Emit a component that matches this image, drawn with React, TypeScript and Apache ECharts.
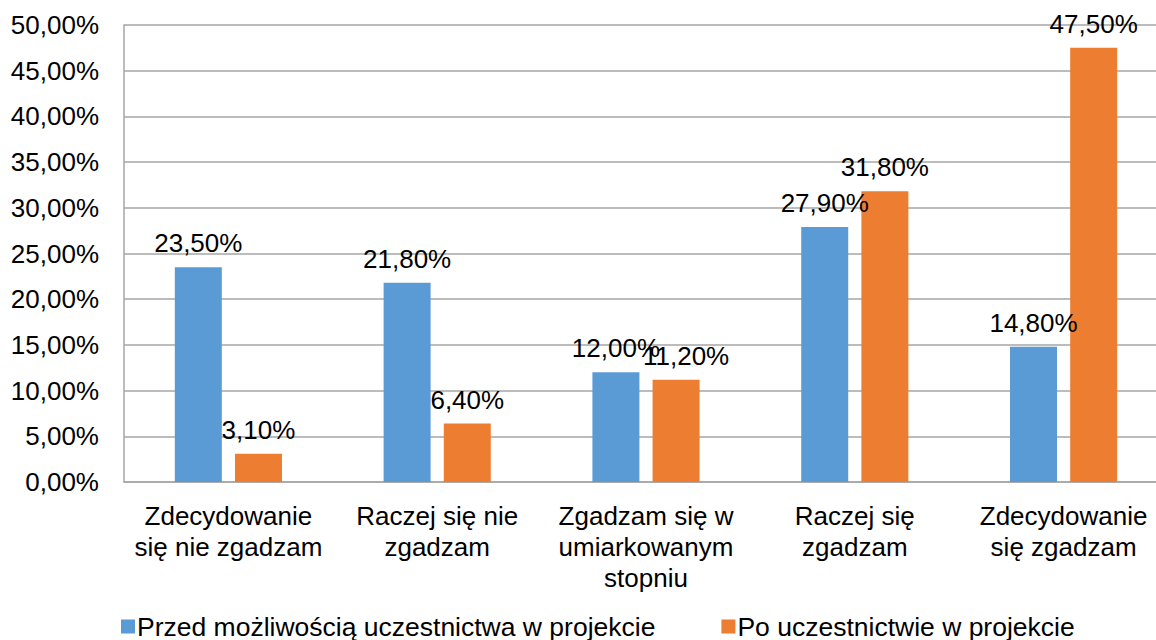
import React, { useEffect, useRef } from "react";
import * as echarts from "echarts";

const categories = [
  "Zdecydowanie\nsię nie zgadzam",
  "Raczej się nie\nzgadzam",
  "Zgadzam się w\numiarkowanym\nstopniu",
  "Raczej się\nzgadzam",
  "Zdecydowanie\nsię zgadzam",
];
const seriesNames = [
  "Przed możliwością uczestnictwa w projekcie",
  "Po uczestnictwie w projekcie",
];
const beforeValues = [23.5, 21.8, 12.0, 27.9, 14.8];
const afterValues = [3.1, 6.4, 11.2, 31.8, 47.5];

const FONT = "'Liberation Sans', Arial, sans-serif";
const fmt = (v: number) => v.toFixed(2).replace(".", ",") + "%";

export default function App() {
  const ref = useRef<HTMLDivElement>(null);
  useEffect(() => {
    document.body.style.margin = "0";
    document.body.style.overflow = "hidden";
    const chart = echarts.init(ref.current!, null, { renderer: "svg" });
    const labelCfg = {
      show: true,
      position: "top",
      distance: 11,
      fontSize: 26,
      fontFamily: FONT,
      color: "#000",
      formatter: (p: any) => fmt(p.value),
    };
    chart.setOption({
      animation: false,
      textStyle: { fontFamily: FONT },
      grid: { left: 124, top: 25, bottom: 158, right: 0, containLabel: false },
      legend: {
        bottom: -5,
        left: 116,
        itemWidth: 14,
        itemHeight: 14,
        itemGap: 66,
        icon: "rect",
        textStyle: { fontSize: 26.5, fontFamily: FONT, color: "#000", padding: [0, 0, 0, -3] },
        data: seriesNames,
      },
      xAxis: {
        type: "category",
        data: categories,
        axisLine: { show: true, lineStyle: { color: "#a6a6a6", width: 1.5 } },
        axisTick: { show: false },
        axisLabel: {
          fontSize: 26,
          fontFamily: FONT,
          color: "#000",
          lineHeight: 31,
          margin: 18,
          interval: 0,
        },
      },
      yAxis: {
        type: "value",
        min: 0,
        max: 50,
        interval: 5,
        axisLine: { show: true, lineStyle: { color: "#a6a6a6", width: 1.5 } },
        axisTick: { show: false },
        splitLine: { show: true, lineStyle: { color: "#a6a6a6", width: 1.5 } },
        axisLabel: {
          fontSize: 26,
          fontFamily: FONT,
          color: "#000",
          margin: 25,
          formatter: (v: number) => fmt(v),
        },
      },
      series: [
        {
          name: seriesNames[0],
          type: "bar",
          data: beforeValues,
          barWidth: 47,
          barGap: "28%",
          itemStyle: { color: "#5B9BD5" },
          label: labelCfg,
        },
        {
          name: seriesNames[1],
          type: "bar",
          data: afterValues.map((v, i) =>
            i === 2 ? { value: v, label: { offset: [10, 0] } } : v
          ),
          barWidth: 47,
          barGap: "28%",
          itemStyle: { color: "#ED7D31" },
          label: labelCfg,
        },
      ],
    });
    return () => chart.dispose();
  }, []);
  return <div ref={ref} style={{ width: 1168, height: 640 }} />;
}
